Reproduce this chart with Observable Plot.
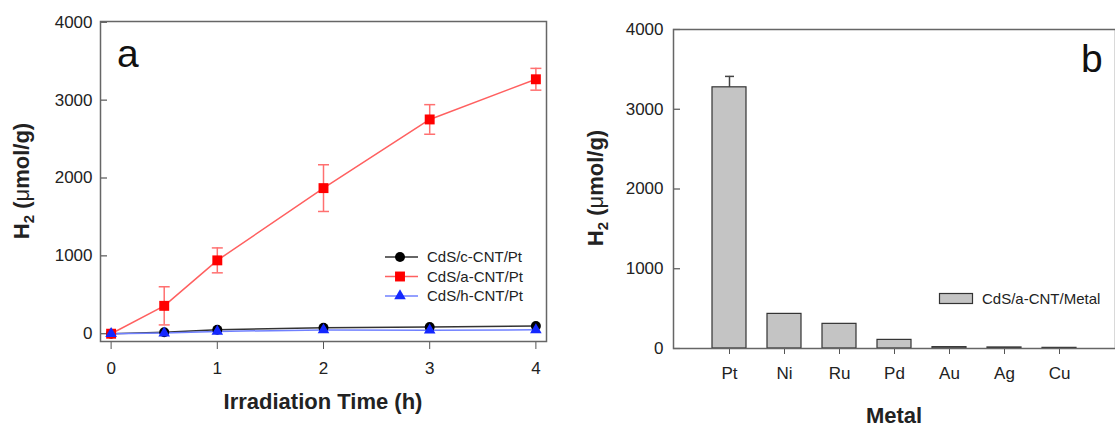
<!DOCTYPE html>
<html><head><meta charset="utf-8">
<script src="https://cdn.jsdelivr.net/npm/d3@7"></script>
<script src="https://cdn.jsdelivr.net/npm/@observablehq/plot@0.6"></script>
<style>
body{margin:0;background:#fff;font-family:"Liberation Sans",Arial,sans-serif;}
#wrap{display:flex;width:1115px;height:428px;overflow:hidden;}
</style></head><body><div id="wrap"></div>
<script>
// ---- data: panel a ----
const times = [0, 0.5, 1, 2, 3, 4];
const seriesNames = ["CdS/c-CNT/Pt", "CdS/a-CNT/Pt", "CdS/h-CNT/Pt"];
const cValues = [0, 19, 50, 76, 85, 98];
const aValues = [0, 358, 942, 1870, 2752, 3268];
const aErrors = [0, 245, 160, 300, 190, 140];
const hValues = [0, 8, 30, 48, 45, 50];
const yTicks = [0, 1000, 2000, 3000, 4000];
const xTicks = [0, 1, 2, 3, 4];
// ---- data: panel b ----
const metals = ["Pt", "Ni", "Ru", "Pd", "Au", "Ag", "Cu"];
const metalValues = [3275, 434, 309, 108, 17, 13, 8];
const metalErrors = [137, 0, 0, 0, 0, 0, 0];
const barSeries = "CdS/a-CNT/Metal";

const FONT = "Liberation Sans, Arial, sans-serif";
const hline = {draw(ctx, size){const r = Math.sqrt(size / Math.PI); ctx.moveTo(-r, 0); ctx.lineTo(r, 0);}};

const rows = times.map((t, i) => ({t, c: cValues[i], a: aValues[i], e: aErrors[i], h: hValues[i]}));
const errRows = rows.filter(d => d.e > 0);

const lineColors = ["#333333", "#ff6060", "#7080ff"];
const dotColors = ["#000000", "#ff0000", "#1428ff"];
const symbols = ["circle", "square", "triangle"];

const leftW = 560, leftML = 100, leftMR = 14;
const left = Plot.plot({
  width: leftW, height: 428, marginLeft: leftML, marginRight: leftMR, marginTop: 21, marginBottom: 87,
  style: {fontFamily: FONT, fontSize: "17px", color: "#222", background: "#fff", overflow: "visible"},
  x: {domain: [-0.1, 4.1]},
  y: {domain: [-100, 4010]},
  marks: [
    Plot.axisX({ticks: xTicks, tickSize: 8, tickPadding: 12, label: null, tickFormat: d => String(d), stroke: "#555"}),
    Plot.axisY({ticks: yTicks, tickSize: 0, tickPadding: 8, label: null, tickFormat: d => String(d)}),
    Plot.tickY(yTicks, {y: d => d, insetRight: leftW - leftML - leftMR - 7, stroke: "#555", strokeWidth: 1.2}),
    Plot.line(rows, {x: "t", y: "c", stroke: lineColors[0], strokeWidth: 1.5}),
    Plot.ruleX(errRows, {x: "t", y1: d => d.a - d.e, y2: d => d.a + d.e, stroke: "#ff7070", strokeWidth: 1.5}),
    Plot.dot(errRows, {x: "t", y: d => d.a + d.e, symbol: hline, r: 5.5, stroke: "#ff7070", strokeWidth: 1.5}),
    Plot.dot(errRows, {x: "t", y: d => d.a - d.e, symbol: hline, r: 5.5, stroke: "#ff7070", strokeWidth: 1.5}),
    Plot.line(rows, {x: "t", y: "a", stroke: lineColors[1], strokeWidth: 1.5}),
    Plot.line(rows, {x: "t", y: "h", stroke: lineColors[2], strokeWidth: 1.5}),
    Plot.dot(rows, {x: "t", y: "c", symbol: symbols[0], r: 5, fill: dotColors[0]}),
    Plot.dot(rows, {x: "t", y: "a", symbol: symbols[1], r: 5.6, fill: dotColors[1]}),
    Plot.dot(rows, {x: "t", y: "h", symbol: symbols[2], r: 4.3, fill: dotColors[2]}),
    Plot.frame({stroke: "#666", strokeWidth: 1.5})
  ]
});

const bars = metals.map((m, i) => ({m, v: metalValues[i], e: metalErrors[i]}));
const barErr = bars.filter(d => d.e > 0);
const rightW = 555, rightML = 113, rightMR = 0;
const right = Plot.plot({
  width: rightW, height: 428, marginLeft: rightML, marginRight: rightMR, marginTop: 29, marginBottom: 80,
  style: {fontFamily: FONT, fontSize: "17px", color: "#222", background: "#fff", overflow: "visible"},
  x: {type: "band", domain: metals, paddingInner: 0.39, paddingOuter: 0.695},
  y: {domain: [0, 4000]},
  marks: [
    Plot.ruleX(barErr, {x: "m", y1: "v", y2: d => d.v + d.e, stroke: "#444", strokeWidth: 1.5}),
    Plot.dot(barErr, {x: "m", y: d => d.v + d.e, symbol: hline, r: 4.5, stroke: "#444", strokeWidth: 1.5}),
    Plot.barY(bars, {x: "m", y: "v", fill: "#c4c4c4", stroke: "#333", strokeWidth: 1.2}),
    Plot.axisX({tickSize: 6, tickPadding: 12, label: null, stroke: "#555"}),
    Plot.axisY({ticks: yTicks, tickSize: 0, tickPadding: 10, label: null, tickFormat: d => String(d)}),
    Plot.tickY(yTicks, {y: d => d, insetRight: rightW - rightML - rightMR - 7, stroke: "#555", strokeWidth: 1.2}),
    Plot.frame({stroke: "#666", strokeWidth: 1.5})
  ]
});

const wrap = document.getElementById("wrap");
wrap.appendChild(left);
wrap.appendChild(right);

function yTitle(svg, x, y) {
  const t = d3.select(svg).append("text")
    .attr("transform", `translate(${x},${y}) rotate(-90)`)
    .attr("text-anchor", "middle")
    .attr("font-family", FONT).attr("font-size", 22).attr("font-weight", "bold").attr("fill", "#222");
  t.append("tspan").text("H");
  t.append("tspan").attr("font-size", 15).attr("dy", 5).text("2");
  t.append("tspan").attr("dy", -5).text(" (");
  t.append("tspan").attr("font-weight", "normal").text("μ");
  t.append("tspan").text("mol/g)");
}
function xTitle(svg, x, y, s) {
  d3.select(svg).append("text").attr("x", x).attr("y", y).attr("text-anchor", "middle")
    .attr("font-family", FONT).attr("font-size", 22).attr("font-weight", "bold").attr("fill", "#222").text(s);
}
function letter(svg, x, y, s) {
  d3.select(svg).append("text").attr("x", x).attr("y", y).attr("text-anchor", "start")
    .attr("font-family", FONT).attr("font-size", 39).attr("fill", "#111").text(s);
}

yTitle(left, 29, 181);
xTitle(left, 323, 409, "Irradiation Time (h)");
letter(left, 117, 67, "a");

yTitle(right, 43, 188);
xTitle(right, 334, 423, "Metal");
letter(right, 521, 72, "b");

// legend panel a
const lg = d3.select(left).append("g").attr("font-family", FONT).attr("font-size", 15)
  .attr("fill", "#222").attr("text-anchor", "start");
const legY = [257, 276.5, 296];
const legSizes = [5, 5.6, 4.3];
seriesNames.forEach((name, i) => {
  const g = lg.append("g").attr("transform", `translate(0,${legY[i]})`);
  g.append("line").attr("x1", 385).attr("x2", 418).attr("stroke", lineColors[i]).attr("stroke-width", 1.5);
  const sym = [d3.symbolCircle, d3.symbolSquare, d3.symbolTriangle][i];
  g.append("path").attr("transform", "translate(400,0)")
    .attr("d", d3.symbol(sym, legSizes[i] * legSizes[i] * Math.PI)()).attr("fill", dotColors[i]);
  g.append("text").attr("x", 427).attr("dy", "0.35em").attr("text-anchor", "start").text(name);
});

// legend panel b
const lb = d3.select(right).append("g").attr("font-family", FONT).attr("font-size", 15)
  .attr("fill", "#222").attr("text-anchor", "start");
lb.append("rect").attr("x", 379.5).attr("y", 293.5).attr("width", 33).attr("height", 10)
  .attr("fill", "#c4c4c4").attr("stroke", "#333").attr("stroke-width", 1.2);
lb.append("text").attr("x", 422).attr("y", 298.5).attr("dy", "0.35em").attr("text-anchor", "start").text(barSeries);
</script></body></html>
